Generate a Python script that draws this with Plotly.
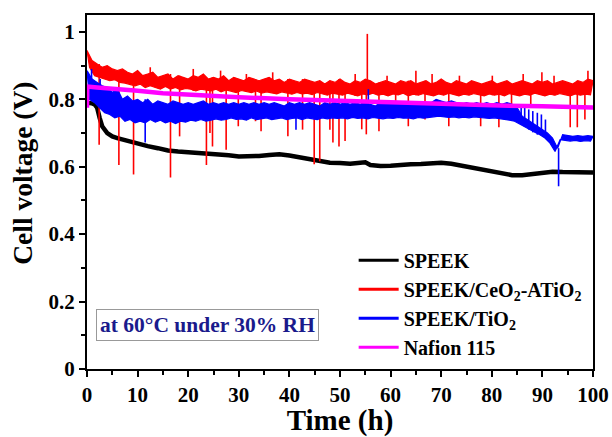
import plotly.graph_objects as go

# ---------------- data ----------------
black_t = [0, 0.5, 1, 1.5, 2, 2.5, 3, 4, 5, 6, 8, 10, 12, 14, 16, 18, 20, 22, 24, 26, 28, 30,
           32, 34, 36, 38, 40, 42, 44, 46, 48, 50, 52, 54, 55, 56, 58, 60, 62, 64, 66, 68, 70,
           72, 74, 76, 78, 80, 82, 84, 86, 88, 90, 92, 94, 96, 98, 100]
black_v = [0.79, 0.79, 0.788, 0.785, 0.775, 0.745, 0.72, 0.70, 0.69, 0.685, 0.676, 0.668, 0.661,
           0.655, 0.648, 0.645, 0.643, 0.641, 0.640, 0.637, 0.634, 0.630, 0.630, 0.632, 0.635,
           0.637, 0.633, 0.628, 0.622, 0.616, 0.612, 0.611, 0.609, 0.612, 0.613, 0.605, 0.602,
           0.603, 0.606, 0.607, 0.608, 0.609, 0.612, 0.609, 0.603, 0.598, 0.592, 0.586, 0.580,
           0.575, 0.575, 0.578, 0.582, 0.585, 0.584, 0.584, 0.583, 0.583]

# red band: upper envelope at whole hours, lower envelope at half hours
red_upper = [0.945, 0.915, 0.905, 0.895, 0.90, 0.89, 0.885, 0.89, 0.88, 0.875, 0.885,
             0.87, 0.875, 0.88, 0.865, 0.87, 0.875, 0.86, 0.87, 0.865, 0.86,
             0.87, 0.865, 0.875, 0.86, 0.865, 0.86, 0.87, 0.855, 0.865, 0.86,
             0.855, 0.865, 0.86, 0.855, 0.86, 0.865, 0.855, 0.86, 0.85, 0.86,
             0.855, 0.85, 0.86, 0.855, 0.85, 0.855, 0.845, 0.855, 0.85, 0.86,
             0.85, 0.845, 0.855, 0.85, 0.86, 0.855, 0.845, 0.85, 0.855, 0.85,
             0.845, 0.855, 0.85, 0.855, 0.845, 0.85, 0.855, 0.845, 0.85, 0.86,
             0.85, 0.845, 0.855, 0.85, 0.845, 0.855, 0.85, 0.845, 0.85, 0.855,
             0.845, 0.85, 0.855, 0.845, 0.85, 0.855, 0.85, 0.845, 0.855, 0.85,
             0.855, 0.845, 0.85, 0.855, 0.85, 0.845, 0.855, 0.85, 0.86, 0.855]
red_lower = [0.895, 0.87, 0.865, 0.86, 0.855, 0.858, 0.85, 0.848, 0.845, 0.84,
             0.845, 0.835, 0.84, 0.835, 0.83, 0.838, 0.83, 0.835, 0.828, 0.832,
             0.83, 0.825, 0.83, 0.828, 0.825, 0.83, 0.822, 0.828, 0.825, 0.82,
             0.826, 0.822, 0.82, 0.825, 0.818, 0.822, 0.82, 0.816, 0.822, 0.818,
             0.815, 0.82, 0.816, 0.818, 0.814, 0.82, 0.815, 0.812, 0.818, 0.815,
             0.812, 0.818, 0.815, 0.81, 0.816, 0.813, 0.818, 0.812, 0.815, 0.81,
             0.816, 0.813, 0.818, 0.81, 0.815, 0.812, 0.817, 0.813, 0.81, 0.816,
             0.812, 0.818, 0.814, 0.81, 0.815, 0.812, 0.817, 0.813, 0.81, 0.816,
             0.812, 0.815, 0.81, 0.817, 0.813, 0.81, 0.815, 0.812, 0.818, 0.813,
             0.81, 0.815, 0.812, 0.817, 0.813, 0.81, 0.816, 0.812, 0.815, 0.813]
red_spike_t = [2.4, 6.3, 9.2, 16.5, 18.3, 23.6, 24.3, 24.8, 27.5, 29.9, 33.3, 34.4, 39.7,
               42.6, 44.9, 46.0, 48.0, 48.6, 49.8, 51.0, 54.3, 55.2, 55.4, 57.7, 61.0, 63.5,
               65.0, 66.8, 71.5, 77.8, 81.4, 83.9, 87.7, 89.9, 95.5, 96.9, 98.4, 99.0,
               12.5, 21.0, 26.4, 31.5, 36.7, 53.0, 59.3, 68.2, 73.6, 80.1, 86.2, 92.3]
red_spike_v = [0.665, 0.605, 0.577, 0.568, 0.69, 0.605, 0.70, 0.66, 0.65, 0.72, 0.735, 0.705,
               0.69, 0.71, 0.607, 0.616, 0.71, 0.672, 0.66, 0.676, 0.711, 0.696, 0.994, 0.705,
               0.76, 0.72, 0.885, 0.74, 0.72, 0.72, 0.717, 0.756, 0.776, 0.88, 0.717, 0.717,
               0.74, 0.885,
               0.895, 0.89, 0.885, 0.875, 0.88, 0.875, 0.87, 0.875, 0.87, 0.87, 0.875, 0.87]

# blue band
blue_upper = [0.885, 0.86, 0.85, 0.84, 0.835, 0.82, 0.83, 0.80, 0.81, 0.795, 0.80,
              0.79, 0.80, 0.785, 0.795, 0.79, 0.785, 0.795, 0.79, 0.785, 0.79,
              0.785, 0.79, 0.795, 0.785, 0.79, 0.785, 0.79, 0.785, 0.79, 0.785,
              0.79, 0.785, 0.79, 0.785, 0.79, 0.785, 0.79, 0.785, 0.78, 0.79,
              0.785, 0.79, 0.785, 0.79, 0.785, 0.78, 0.79, 0.785, 0.79, 0.785,
              0.79, 0.785, 0.79, 0.785, 0.79, 0.785, 0.78, 0.79, 0.785, 0.79,
              0.785, 0.79, 0.785, 0.79, 0.785, 0.79, 0.785, 0.79, 0.80, 0.795,
              0.79, 0.795, 0.79, 0.785, 0.79, 0.785, 0.79, 0.785, 0.79, 0.785,
              0.79, 0.785, 0.79, 0.785, 0.775, 0.75, 0.74, 0.73, 0.72, 0.712,
              0.70, 0.685, 0.655, 0.695, 0.692, 0.69, 0.692, 0.69, 0.692, 0.69]
blue_lower = [0.80, 0.79, 0.775, 0.76, 0.755, 0.745, 0.75, 0.735, 0.74, 0.73,
              0.735, 0.73, 0.74, 0.732, 0.738, 0.73, 0.735, 0.728, 0.735, 0.732,
              0.738, 0.735, 0.74, 0.735, 0.738, 0.742, 0.738, 0.74, 0.745, 0.74,
              0.742, 0.738, 0.745, 0.74, 0.742, 0.745, 0.74, 0.743, 0.745, 0.74,
              0.743, 0.745, 0.74, 0.745, 0.742, 0.74, 0.745, 0.742, 0.745, 0.743,
              0.745, 0.742, 0.746, 0.743, 0.745, 0.742, 0.746, 0.744, 0.742, 0.745,
              0.743, 0.746, 0.744, 0.745, 0.742, 0.746, 0.744, 0.745, 0.748, 0.75,
              0.748, 0.746, 0.748, 0.745, 0.747, 0.745, 0.748, 0.746, 0.745, 0.743,
              0.745, 0.742, 0.74, 0.738, 0.735, 0.725, 0.718, 0.71, 0.702, 0.695,
              0.685, 0.67, 0.645, 0.68, 0.678, 0.676, 0.678, 0.675, 0.677, 0.676]
blue_spike_t = [0.9, 2.6, 11.5, 41.3, 55.6, 85.8, 86.5, 87.3, 88.1, 89.0, 89.8, 90.6, 93.2]
blue_spike_v = [0.89, 0.86, 0.672, 0.71, 0.83, 0.78, 0.775, 0.77, 0.765, 0.76, 0.755, 0.74, 0.542]

nafion_t = [0, 0.05, 2, 5, 10, 15, 20, 25, 30, 40, 50, 60, 70, 80, 90, 100]
nafion_v = [0.775, 0.838, 0.835, 0.83, 0.825, 0.818, 0.813, 0.81, 0.806, 0.80, 0.795,
            0.79, 0.786, 0.782, 0.779, 0.776]

names = ["SPEEK", "SPEEK/CeO<sub>2</sub>-ATiO<sub>2</sub>", "SPEEK/TiO<sub>2</sub>", "Nafion 115"]
colors = ["#000000", "#ff0000", "#0000ff", "#ff00ff"]
FONT = "Liberation Serif"


def add_band(fig, upper, lower, spike_t, spike_v, color):
    tu = list(range(len(upper)))
    tl = [i + 0.5 for i in range(len(lower))]
    px = tu + tl[::-1] + [tu[0]]
    py = list(upper) + list(lower)[::-1] + [upper[0]]
    fig.add_trace(go.Scatter(x=px, y=py, mode="lines", showlegend=False, fill="toself",
                             fillcolor=color, line=dict(color=color, width=1.2)))
    sx, sy = [], []
    for t, v in zip(spike_t, spike_v):
        i = min(int(round(t)), len(upper) - 1)
        j = min(int(t), len(lower) - 1)
        base = upper[i] if v < lower[j] else lower[j]
        sx += [t, t, None]
        sy += [base, v, None]
    fig.add_trace(go.Scatter(x=sx, y=sy, mode="lines", showlegend=False,
                             line=dict(color=color, width=1.6)))


fig = go.Figure()
for n, c in zip(names, colors):
    fig.add_trace(go.Scatter(x=[None], y=[None], mode="lines", name=n,
                             line=dict(color=c, width=3)))
fig.add_trace(go.Scatter(x=black_t, y=black_v, mode="lines", showlegend=False,
                         line=dict(color=colors[0], width=4.5)))
add_band(fig, red_upper, red_lower, red_spike_t, red_spike_v, colors[1])
add_band(fig, blue_upper, blue_lower, blue_spike_t, blue_spike_v, colors[2])
fig.add_trace(go.Scatter(x=nafion_t, y=nafion_v, mode="lines", showlegend=False,
                         line=dict(color=colors[3], width=4.5)))

fig.update_layout(
    width=612, height=437,
    margin=dict(l=87, r=19, t=15, b=68),
    paper_bgcolor="white", plot_bgcolor="white",
    font=dict(family=FONT, color="black", weight="bold"),
    legend=dict(x=0.527, y=0.362, xanchor="left", yanchor="top", traceorder="normal",
                bgcolor="rgba(0,0,0,0)", font=dict(size=20, family=FONT, weight="bold"),
                tracegroupgap=0, itemwidth=40),
    showlegend=True,
)
axis_common = dict(showgrid=False, zeroline=False, automargin=False,
                   showline=True, linecolor="black", linewidth=2, mirror=True,
                   ticks="outside", ticklen=6, tickwidth=2, tickcolor="black",
                   tickfont=dict(size=21, family=FONT, weight="bold"))
fig.update_xaxes(range=[0, 100], dtick=10, tick0=0,
                 minor=dict(dtick=5, ticks="outside", ticklen=4, tickwidth=2, tickcolor="black"),
                 title=dict(text="Time (h)", font=dict(size=29, family=FONT, weight="bold"),
                            standoff=0), **axis_common)
fig.update_yaxes(range=[0, 1.05], dtick=0.2, tick0=0,
                 minor=dict(dtick=0.1, ticks="outside", ticklen=4, tickwidth=2, tickcolor="black"),
                 **axis_common)
fig.add_annotation(xref="paper", yref="paper", x=-0.128, y=0.552, xanchor="center",
                   yanchor="middle", textangle=-90, text="Cell voltage (V)", showarrow=False,
                   font=dict(size=27.5, family=FONT, color="black", weight="bold"))
fig.add_annotation(xref="paper", yref="paper", x=0.018, y=0.124, xanchor="left", yanchor="middle",
                   text="at 60°C under 30% RH", showarrow=False,
                   font=dict(size=21.5, family=FONT, color="#1a1a8c", weight="bold"),
                   bordercolor="#999999", borderwidth=1, borderpad=3, bgcolor="white")

fig.write_html("out.html", config={"displayModeBar": False},
               post_script="document.body.style.margin='0';document.body.style.padding='0';"
                           "document.body.style.overflow='hidden';")
